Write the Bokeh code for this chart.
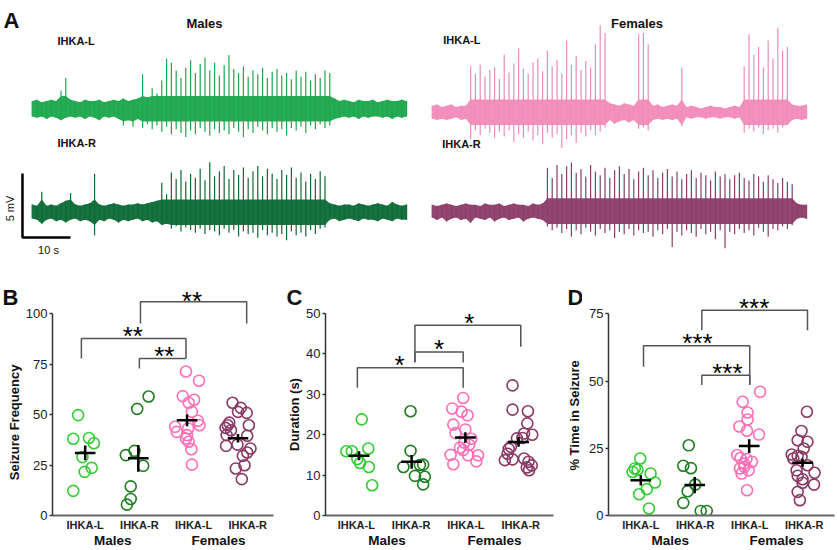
import numpy as np
from bokeh.plotting import figure
from bokeh.layouts import column, row
from bokeh.models import Label, FixedTicker, Range1d, LinearAxis
from bokeh.embed import file_html
from bokeh.resources import INLINE

FONT = "Liberation Sans"

# ---------------- Panel A: EEG traces (upper / lower envelope per 1-s bin, mV) ----------------
male_L_up = [0.6, 0.7, 0.5, 0.6, 0.7, 0.6,
             1.4, 2.4, 0.7,
             0.6, 0.5, 0.7, 0.6, 0.6, 0.7, 0.5, 0.6, 0.7, 0.6, 0.8, 0.6, 0.7, 0.8,
             2.7, 0.9, 1.6, 1.2, 2.2, 3.9, 3.6, 3.0, 2.4, 3.2, 3.8, 2.8, 3.5, 4.0, 3.0, 3.6, 2.6, 3.4, 4.2, 3.1,
             2.8, 3.3, 2.5, 3.0, 2.7, 3.2, 2.4, 2.9, 3.1, 2.6, 2.8, 2.3, 3.0, 2.5, 2.9, 2.2, 2.7, 2.4, 3.0, 2.8,
             0.8,
             0.6, 0.7, 0.6, 0.5, 0.7, 0.6, 0.6, 0.7, 0.5, 0.6, 0.7, 0.6, 0.6, 0.7, 0.6]
male_L_lo = [-0.6, -0.7, -0.6, -0.8, -0.6, -0.7, -0.9, -0.7, -0.6, -0.7, -0.6, -0.8, -0.6, -0.7, -0.9,
             -0.6, -0.7, -0.6, -0.8, -1.3, -0.9, -1.4, -0.8,
             -1.5, -1.2, -1.6, -1.3, -1.8, -1.4, -2.0, -1.6, -1.9, -2.2, -1.7, -2.0, -1.5, -1.8, -2.1,
             -1.6, -1.9, -1.7, -2.0, -1.5, -1.8, -2.2, -1.6, -1.9, -1.4, -1.7, -2.0, -1.5, -1.8, -1.6,
             -2.1, -1.5, -1.7, -1.4, -1.9, -1.3, -1.6, -1.2, -1.5, -1.3,
             -0.8, -0.7, -0.6, -0.7, -0.6, -0.8, -0.6, -0.7, -0.6, -0.6, -0.7, -0.6, -0.8, -0.6, -0.7, -0.6]
male_R_up = [0.6, 0.5, 1.6, 0.5, 0.6, 0.5, 0.7, 0.9, 1.5, 0.6, 0.5, 0.6, 0.7, 3.0,
             0.6, 0.5, 0.6, 0.7, 0.6, 0.5, 0.6, 0.6, 0.7, 0.6, 0.7, 0.8, 0.9,
             2.3, 1.4, 3.1, 2.6, 3.3, 2.4, 3.0, 2.7, 3.4, 2.5, 3.9, 2.8, 3.2, 3.6, 2.6, 3.3, 2.9, 3.5,
             2.7, 3.2, 3.6, 2.8, 3.4, 3.0, 2.6, 3.3, 2.9, 3.5, 2.7, 3.1, 2.4, 3.0, 2.6, 3.2, 2.8,
             0.7, 0.6, 0.5, 0.6, 0.6, 0.5, 0.7, 0.6, 0.5, 0.6, 0.7, 0.6, 0.5, 0.8, 0.6, 0.5, 0.6]
male_R_lo = [-0.5, -0.6, -0.9, -0.6, -0.5, -0.7, -0.6, -0.8, -0.6, -0.5, -0.7, -0.6, -0.7,
             -1.8,
             -0.6, -0.7, -0.5, -0.6, -0.8, -0.6, -0.7, -0.6, -0.5, -0.7, -0.6, -0.8, -0.7,
             -1.0, -0.9, -1.3, -1.1, -1.5, -1.2, -1.4, -1.6, -1.3, -1.7, -1.4, -1.5, -1.8, -1.3, -1.6,
             -1.4, -1.9, -1.5, -1.7, -1.6, -2.0, -1.4, -1.8, -1.6, -1.9, -1.7, -2.2, -1.5, -1.8, -1.6,
             -1.9, -1.4, -1.7, -1.3, -1.2,
             -0.6, -0.5, -0.7, -0.6, -0.5, -0.6, -0.7, -0.5, -0.6, -0.6, -0.7, -0.5, -0.6, -0.7, -0.5, -0.6, -0.6]
female_L_up = [0.5, 0.6, 0.4, 0.5, 0.6, 0.4, 0.5, 0.5,
               3.6, 3.0, 3.7, 2.8, 3.3, 3.5, 2.6, 4.5, 3.1, 3.8, 5.0, 3.4, 3.0, 3.9, 4.2, 3.2, 4.8,
               3.6, 4.1, 3.0, 5.6, 3.7, 4.4, 3.3, 4.0, 3.5, 5.3, 6.8, 6.2,
               0.7, 0.6, 0.5, 0.7, 0.6, 0.5,
               6.1, 6.2, 5.3,
               0.5, 0.6, 0.4, 0.5, 0.6,
               0.5, 3.5,
               0.4, 0.5, 0.4, 0.3, 0.4, 0.5, 0.4, 0.4, 0.3, 0.4, 0.5, 0.4,
               3.6, 6.1, 4.5, 5.1, 3.5, 5.6, 4.2, 6.6, 4.8, 5.1,
               0.6, 0.5, 0.5, 0.6]
female_L_lo = [-0.5, -0.6, -0.5, -0.6, -0.5, -0.4, -0.6, -0.5,
               -2.1, -1.4, -1.8, -1.3, -1.6, -2.0, -1.5, -1.9, -1.4, -2.3, -1.7, -2.0, -1.5, -2.2, -1.8,
               -2.5, -1.6, -2.0, -1.7, -2.8, -2.1, -1.8, -2.4, -1.6, -1.9, -1.4, -1.8, -1.5, -1.2,
               -0.6, -0.9, -0.7, -0.6, -0.8, -0.6,
               -1.3, -1.2, -1.4,
               -0.6, -0.5, -0.6, -0.5, -0.6,
               -0.5, -1.1,
               -0.4, -0.5, -0.4, -0.4, -0.5, -0.4, -0.4, -0.5, -0.4, -0.4, -0.5, -0.4,
               -1.6, -1.3, -1.5, -1.2, -1.7, -1.4, -1.3, -1.6, -1.2, -1.0,
               -0.6, -0.5, -0.6, -0.5]
female_R_up = [0.5, 0.4, 0.5, 0.6, 0.5, 0.4, 0.5, 0.6, 0.5, 0.5, 0.4, 0.6, 0.5, 0.5, 0.6, 0.4,
               0.5, 0.6, 0.5, 0.5, 0.4, 0.6, 0.5, 0.6,
               3.4, 2.6, 3.6, 2.9, 3.5, 3.8, 3.0, 3.3, 2.7, 3.6, 3.1, 2.8, 3.4, 2.6, 3.2, 3.5, 2.9, 3.3,
               2.5, 3.1, 3.4, 2.8, 3.2, 2.6, 3.0, 3.3, 2.7, 3.1, 2.5, 2.9, 3.2, 2.6, 3.0, 2.8, 2.4, 3.1,
               2.7, 2.9, 2.5, 2.8, 3.0, 2.6, 2.4, 2.9, 2.7, 2.3, 2.8, 2.5, 2.2, 2.6, 2.3, 2.1,
               0.6, 0.5, 0.5]
female_R_lo = [-0.5, -0.7, -0.5, -0.8, -0.6, -0.5, -0.7, -0.6, -0.9, -0.5, -0.6, -0.7, -0.5, -0.8,
               -0.6, -0.5, -0.7, -0.6, -0.5, -0.8, -0.6, -0.5, -0.6, -0.7,
               -1.2, -1.5, -1.3, -1.7, -1.4, -2.0, -1.5, -1.8, -1.3, -1.6, -1.9, -1.4, -1.7, -1.5, -2.1,
               -1.6, -1.8, -1.4, -1.9, -1.5, -1.7, -1.6, -2.0, -1.5, -1.8, -1.4, -2.8, -1.6, -1.9, -1.5,
               -1.7, -2.0, -1.4, -1.8, -1.6, -2.2, -1.5, -2.9, -1.6, -1.8, -1.4, -1.7, -1.5, -1.9, -1.3,
               -1.6, -2.0, -1.4, -1.5, -1.2, -1.4, -1.1,
               -0.6, -0.5, -0.6]

scale_bar_mV = 5
scale_bar_s = 10

# ---------------- Panels B-D ----------------
group_labels = ["IHKA-L", "IHKA-R", "IHKA-L", "IHKA-R"]
sex_labels = ["Males", "Females"]
group_colors = ["#33cc33", "#1f7d22", "#ff6fb7", "#8a3a65"]

# B: seizure frequency
freq_vals = [[49.7, 38.0, 38.4, 35.8, 28.9, 23.6, 21.6, 12.2],
             [58.9, 52.8, 32.0, 29.9, 24.6, 14.4, 8.2, 5.4],
             [71.3, 66.7, 59.1, 57.3, 55.8, 51.3, 46.9, 44.7, 43.9, 43.1, 41.4, 39.8, 38.1, 36.5, 32.8, 25.2],
             [55.8, 53.3, 51.3, 50.8, 46.0, 44.7, 43.4, 44.7, 42.2, 39.8, 39.5, 34.5, 35.1, 33.2, 31.2,
              29.5, 24.9, 23.3, 18.0]]
freq_x = [[0.87, 0.78, 1.07, 1.16, 0.95, 1.12, 0.99, 0.78],
          [2.17, 1.96, 1.91, 1.75, 2.07, 1.84, 1.84, 1.77],
          [2.86, 3.10, 2.80, 3.01, 2.91, 2.97, 3.08, 3.11, 2.66, 2.90, 2.69, 2.88, 2.86, 2.91, 2.96, 2.97],
          [3.72, 3.87, 3.82, 3.98, 3.66, 3.63, 3.59, 4.02, 3.69, 3.61, 3.99, 3.60, 3.81, 4.05, 3.99,
           3.91, 3.94, 3.78, 3.89]]
freq_mean = [31.0, 28.3, 47.1, 38.3]
freq_mean_x = [1.0, 1.98, 2.88, 3.82]
freq_sem = [3.7, 6.6, 2.9, 2.1]
freq_sig_x1 = [2.02, 0.93, 2.00]
freq_sig_x2 = [3.98, 2.86, 2.86]
freq_sig_top = [105.8, 87.6, 77.7]
freq_sig_left = [95.0, 77.7, 72.8]
freq_sig_right = [95.0, 77.7, 77.7]
freq_sig_text = ["**", "**", "**"]
freq_sig_tx = [2.97, 1.88, 2.46]
freq_sig_ty = [109.4, 91.7, 81.8]

# C: duration (s)
dur_vals = [[23.8, 15.9, 15.9, 16.6, 14.0, 13.0, 12.0, 7.5],
            [25.8, 16.0, 12.0, 12.5, 12.6, 9.8, 9.6, 7.7],
            [29.1, 26.5, 25.7, 24.8, 22.5, 21.3, 20.4, 19.0, 18.0, 17.5, 16.8, 16.2, 15.0, 14.9, 14.9, 13.4, 12.7],
            [32.2, 26.2, 25.8, 22.8, 20.3, 20.0, 19.2, 19.1, 17.0, 16.5, 15.3, 13.7, 13.9, 14.1, 13.3,
             12.4, 11.9, 11.2]]
dur_x = [[1.10, 0.82, 0.92, 1.22, 1.02, 1.07, 1.23, 1.29],
         [1.99, 1.99, 1.86, 2.16, 2.22, 2.07, 2.25, 2.22],
         [2.95, 2.75, 2.92, 3.03, 2.77, 2.99, 2.81, 3.10, 2.97, 3.06, 2.89, 2.95, 2.72, 3.04, 3.22, 3.19, 2.77],
         [3.85, 3.85, 4.13, 4.12, 4.06, 4.21, 4.03, 3.93, 3.82, 3.78, 3.76, 3.71, 3.85, 4.06, 4.14,
          4.20, 4.11, 4.15]]
dur_mean = [14.8, 13.3, 19.3, 18.2]
dur_mean_x = [1.05, 2.01, 2.99, 3.96]
dur_sem = [1.1, 1.7, 1.3, 1.2]
dur_sig_x1 = [2.07, 2.07, 1.02]
dur_sig_x2 = [4.00, 2.95, 2.95]
dur_sig_top = [47.1, 40.5, 36.6]
dur_sig_left = [38.0, 37.9, 31.6]
dur_sig_right = [41.8, 37.9, 31.6]
dur_sig_text = ["*", "*", "*"]
dur_sig_tx = [3.06, 2.51, 1.79]
dur_sig_ty = [49.2, 42.8, 38.7]

# D: % time in seizure
pct_vals = [[21.2, 17.5, 17.0, 16.2, 15.6, 12.3, 9.8, 7.9, 2.6],
            [26.1, 18.5, 17.6, 11.5, 9.0, 4.7, 1.7, 1.7],
            [46.0, 42.3, 38.3, 35.7, 33.1, 31.5, 30.1, 22.5, 21.4, 21.0, 20.0, 19.3, 18.1, 17.5, 16.8, 15.6, 9.4],
            [38.6, 31.4, 28.0, 27.4, 24.9, 22.7, 22.2, 21.8, 21.2, 18.7, 16.8, 15.9, 14.8, 13.5, 12.2,
             11.5, 8.8, 5.7]]
pct_x = [[0.99, 0.89, 0.94, 0.85, 1.18, 1.26, 1.11, 0.97, 1.15],
         [1.88, 1.78, 1.92, 2.00, 1.86, 1.78, 2.10, 2.21],
         [3.19, 2.87, 2.96, 2.96, 2.81, 2.95, 3.17, 2.77, 2.83, 2.94, 3.04, 2.90, 2.90, 2.82, 2.98, 2.85, 2.95],
         [4.05, 3.95, 3.88, 4.06, 3.99, 3.77, 3.88, 3.95, 3.80, 4.06, 3.86, 4.19, 3.88, 3.97, 3.97,
          4.18, 3.88, 3.92]]
pct_mean = [13.1, 11.3, 25.8, 19.6]
pct_mean_x = [1.0, 1.99, 2.99, 3.97]
pct_sem = [1.9, 3.0, 2.6, 1.5]
pct_sig_x1 = [2.12, 1.05, 2.12]
pct_sig_x2 = [4.06, 3.00, 3.00]
pct_sig_top = [76.3, 63.1, 52.2]
pct_sig_left = [68.9, 55.3, 48.5]
pct_sig_right = [68.9, 48.5, 48.5]
pct_sig_text = ["***", "***", "***"]
pct_sig_tx = [3.08, 2.04, 2.59]
pct_sig_ty = [79.5, 66.5, 55.3]

ROW1_H = 263
ROW2_H = 287
BOTTOM = 35
FRAME_H = ROW2_H - BOTTOM


# ---------------- helpers ----------------
def label(p, x, y, text, size="13px", bold=True, align="left", baseline="middle", angle=0.0, color="#111111"):
    p.add_layout(Label(x=x, y=y, text=text, text_font=FONT, text_font_size=size,
                       text_font_style="bold" if bold else "normal", text_align=align,
                       text_baseline=baseline, angle=angle, text_color=color))


def bare_fig(width, height, xr, yr):
    p = figure(width=width, height=height, x_range=Range1d(*xr), y_range=Range1d(*yr),
               output_backend="svg", toolbar_location=None, min_border=0,
               x_axis_location=None, y_axis_location=None)
    p.grid.visible = False
    p.outline_line_color = None
    return p


def draw_trace(p, up, lo, offset, color):
    n = min(len(up), len(lo))
    up = np.asarray(up[:n], dtype=float)
    lo = np.asarray(lo[:n], dtype=float)
    t = np.arange(n, dtype=float)
    p.varea(x=t, y1=np.clip(lo, -1.0, 0.0) + offset, y2=np.clip(up, 0.0, 1.0) + offset,
            fill_color=color, fill_alpha=0.95)
    p.segment(x0=t, x1=t, y0=lo + offset, y1=up + offset, line_color=color, line_width=1.2)


# Panel A, males  (x in s, y in mV)
pm = bare_fig(420, ROW1_H, (-6.60, 80.9), (-4.01, 16.54))
draw_trace(pm, male_L_up, male_L_lo, 8.08, "#1ba84c")
draw_trace(pm, male_R_up, male_R_lo, 0.0, "#0c6a35")
sb_t0, sb_y0 = -2.02, -1.98
pm.line([sb_t0, sb_t0, sb_t0 + scale_bar_s], [sb_y0 + scale_bar_mV, sb_y0, sb_y0],
        line_color="black", line_width=2.5)
label(pm, -5.98, 14.98, "A", size="22px", baseline="alphabetic")
label(pm, 35.9, 14.74, "Males", align="center")
label(pm, 5.27, 13.41, "IHKA-L", size="11px")
label(pm, 5.27, 5.37, "IHKA-R", size="11px")
label(pm, -4.52, 0.29, "%d mV" % scale_bar_mV, size="11px", bold=False, align="center", angle=np.pi / 2)
label(pm, 3.4, -2.99, "%d s" % scale_bar_s, size="11px", bold=False, align="center")

# Panel A, females
pf = bare_fig(417, ROW1_H, (-2.44, 84.44), (-4.09, 16.46))
draw_trace(pf, female_L_up, female_L_lo, 7.73, "#f18bba")
draw_trace(pf, female_R_up, female_R_lo, 0.0, "#8c3d69")
label(pf, 42.67, 14.66, "Females", align="center")
label(pf, 2.29, 13.34, "IHKA-L", size="11px")
label(pf, 2.08, 5.21, "IHKA-R", size="11px")


def strip(width, letter, title, tx, ty_from_top):
    # narrow column holding the panel letter and the rotated y-axis title (pixel coordinates)
    s = bare_fig(width, ROW2_H, (0, width), (0, ROW2_H))
    label(s, 2, ROW2_H - 39, letter, size="22px", baseline="alphabetic")
    label(s, tx, ROW2_H - ty_from_top, title, size="13px", align="center", angle=np.pi / 2)
    return s


def panel(width, left, right, xr, px_per_unit, yticks, vals, xs, means, mxs, sems,
          sx1, sx2, stop, sleft, sright, stext, stx, sty, sex_x):
    ytop = FRAME_H / px_per_unit
    p = figure(width=width, height=ROW2_H, x_range=Range1d(*xr), y_range=Range1d(0, ytop),
               output_backend="svg", toolbar_location=None,
               min_border_left=left, min_border_right=right, min_border_top=0, min_border_bottom=BOTTOM)
    p.grid.visible = False
    p.outline_line_color = None

    for g in range(4):
        p.scatter(x=xs[g], y=vals[g], size=11, marker="circle", fill_color=None,
                  line_color=group_colors[g], line_width=1.6)
    m = np.asarray(means)
    mx = np.asarray(mxs)
    s = np.asarray(sems)
    p.segment(x0=mx - 0.19, x1=mx + 0.19, y0=m, y1=m, line_color="black", line_width=2.5)
    p.segment(x0=mx, x1=mx, y0=m - s, y1=m + s, line_color="black", line_width=2.5)

    bxs = [[a, a, b, b] for a, b in zip(sx1, sx2)]
    bys = [[l, t, t, r] for l, t, r in zip(sleft, stop, sright)]
    p.multi_line(bxs, bys, line_color="#555555", line_width=1.5)
    for tx, ty, tt in zip(stx, sty, stext):
        label(p, tx, ty - 6.0 / px_per_unit, tt, size="26px", bold=False, align="center",
              color="#000000")

    ya = p.yaxis[0]
    ya.bounds = (0, yticks[-1])
    ya.ticker = FixedTicker(ticks=yticks)
    ya.minor_tick_line_color = None
    ya.major_tick_out = 3
    ya.major_tick_in = 0
    ya.major_label_standoff = 2
    ya.major_label_text_font = FONT
    ya.major_label_text_font_size = "13px"
    ya.major_label_text_color = "#222222"
    ya.axis_line_color = "#333333"
    ya.axis_line_width = 1.5
    ya.major_tick_line_color = "#333333"
    ya.major_tick_line_width = 1.5

    xa = p.xaxis[0]
    xa.ticker = FixedTicker(ticks=[1, 2, 3, 4])
    xa.major_label_overrides = {i + 1: group_labels[i] for i in range(4)}
    xa.major_tick_line_color = None
    xa.minor_tick_line_color = None
    xa.major_tick_out = 0
    xa.major_tick_in = 0
    xa.minor_tick_out = 0
    xa.major_label_standoff = 3
    xa.major_label_text_font = FONT
    xa.major_label_text_font_size = "11px"
    xa.major_label_text_font_style = "bold"
    xa.major_label_text_color = "#222222"
    xa.axis_line_color = "#666666"
    xa.axis_line_width = 1.8

    xa2 = LinearAxis(ticker=FixedTicker(ticks=sex_x),
                     major_label_overrides={sex_x[0]: sex_labels[0], sex_x[1]: sex_labels[1]},
                     axis_line_color=None, major_tick_line_color=None, minor_tick_line_color=None,
                     major_tick_out=0, major_tick_in=0, minor_tick_out=0, minor_tick_in=0,
                     major_label_standoff=-1, major_label_text_font=FONT,
                     major_label_text_font_size="13.5px", major_label_text_font_style="bold",
                     major_label_text_color="#111111")
    p.add_layout(xa2, "below")
    return p


sb = strip(22, "B", "Seizure Frequency", 13.5, 181)
pb = panel(262, 28, 11, (0.397, 4.475), 2.02, [0, 25, 50, 75, 100],
           freq_vals, freq_x, freq_mean, freq_mean_x, freq_sem,
           freq_sig_x1, freq_sig_x2, freq_sig_top, freq_sig_left, freq_sig_right,
           freq_sig_text, freq_sig_tx, freq_sig_ty, [1.51, 3.46])
sc = strip(19, "C", "Duration (s)", 9.5, 172)
pc = panel(262, 20, 12, (0.439, 4.597), 4.04, [0, 10, 20, 30, 40, 50],
           dur_vals, dur_x, dur_mean, dur_mean_x, dur_sem,
           dur_sig_x1, dur_sig_x2, dur_sig_top, dur_sig_left, dur_sig_right,
           dur_sig_text, dur_sig_tx, dur_sig_ty, [1.56, 3.52])
sd = strip(17, "D", "% Time in Seizure", 8.5, 173)
pd_ = panel(255, 26, 3, (0.407, 4.556), 2.689, [0, 25, 50, 75],
            pct_vals, pct_x, pct_mean, pct_mean_x, pct_sem,
            pct_sig_x1, pct_sig_x2, pct_sig_top, pct_sig_left, pct_sig_right,
            pct_sig_text, pct_sig_tx, pct_sig_ty, [1.54, 3.49])

layout = column(row(pm, pf, spacing=0),
                row(sb, pb, sc, pc, sd, pd_, spacing=0), spacing=0)
open("out.html", "w").write(file_html(layout, INLINE))
